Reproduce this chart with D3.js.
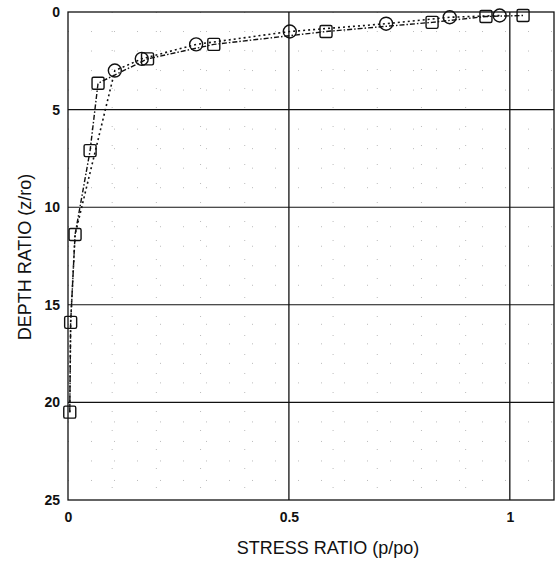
<!DOCTYPE html>
<html>
<head>
<meta charset="utf-8">
<script src="https://cdn.jsdelivr.net/npm/d3@7"></script>
<style>
    body { margin:0; background:#fff; }
    text { font-family:"Liberation Sans", Arial, sans-serif; fill:#111; }
</style>
</head>
<body>
<svg id="svg__container" width="557" height="564"></svg>
<script>
// square series (dash-dot line)
const squareStress=[0.004, 0.006, 0.016, 0.05, 0.068, 0.18, 0.33, 0.584, 0.824, 0.946, 1.03];
const squareDepth=[20.5, 15.9, 11.4, 7.1, 3.65, 2.4, 1.66, 1.0, 0.53, 0.23, 0.18];
// circle series (dotted line) - deep points sit under the squares
const circleStress=[0.004, 0.006, 0.016, 0.106, 0.167, 0.29, 0.502, 0.72, 0.864, 0.977];
const circleDepth=[20.5, 15.9, 11.4, 3.0, 2.4, 1.66, 1.0, 0.6, 0.27, 0.18];

const xMajorTicks=[0, 0.5, 1];
const yMajorTicks=[0, 5, 10, 15, 20, 25];
const xMinorTicks=[0.1, 0.2, 0.3, 0.4, 0.6, 0.7, 0.8, 0.9];
const yMinorTicks=[1,2,3,4,6,7,8,9,11,12,13,14,16,17,18,19,21,22,23,24];

const svgTag=d3.select("#svg__container");
const plotLeft=68, plotRight=554, plotTop=12, plotBottom=500;

const x=d3.scaleLinear().domain([0, 1.1]).range([plotLeft, plotRight]);
const y=d3.scaleLinear().domain([0, 25]).range([plotTop, plotBottom]);

// faint minor grid (sparse dots, like the scan)
const gridG=svgTag.append("g");
xMinorTicks.forEach(t=>{
    gridG.append("line")
        .attr("x1", x(t)).attr("x2", x(t))
        .attr("y1", plotTop).attr("y2", plotBottom)
        .attr("stroke", "#aaa").attr("stroke-width", 0.8)
        .attr("stroke-dasharray", "1,18");
});
yMinorTicks.forEach(t=>{
    gridG.append("line")
        .attr("x1", plotLeft).attr("x2", plotRight)
        .attr("y1", y(t)).attr("y2", y(t))
        .attr("stroke", "#aaa").attr("stroke-width", 0.8)
        .attr("stroke-dasharray", "1,22");
});

// major grid (solid)
xMajorTicks.filter(t=>t>0).forEach(t=>{
    gridG.append("line")
        .attr("x1", x(t)).attr("x2", x(t))
        .attr("y1", plotTop).attr("y2", plotBottom)
        .attr("stroke", "#111").attr("stroke-width", 1.3);
});
yMajorTicks.filter(t=>t>0 && t<25).forEach(t=>{
    gridG.append("line")
        .attr("x1", plotLeft).attr("x2", plotRight)
        .attr("y1", y(t)).attr("y2", y(t))
        .attr("stroke", "#111").attr("stroke-width", 1.1);
});

// frame
svgTag.append("rect")
    .attr("x", plotLeft).attr("y", plotTop)
    .attr("width", plotRight-plotLeft).attr("height", plotBottom-plotTop)
    .attr("fill", "none").attr("stroke", "#111").attr("stroke-width", 1.3);

// axes, labels only
const xAxis=d3.axisBottom(x).tickValues(xMajorTicks).tickSize(0).tickPadding(12)
    .tickFormat(d3.format("~g"));
const yAxis=d3.axisLeft(y).tickValues(yMajorTicks).tickSize(0).tickPadding(8);

svgTag.append("g").attr("transform", `translate(0,${plotBottom})`).call(xAxis)
    .call(g=>g.select(".domain").remove())
    .selectAll("text").attr("font-size", 14).attr("font-weight", "bold")
    .attr("font-family", "Liberation Sans, Arial, sans-serif").attr("fill", "#111");
svgTag.append("g").attr("transform", `translate(${plotLeft},0)`).call(yAxis)
    .call(g=>g.select(".domain").remove())
    .selectAll("text").attr("font-size", 14).attr("font-weight", "bold")
    .attr("font-family", "Liberation Sans, Arial, sans-serif").attr("fill", "#111");

svgTag.append("text")
    .attr("x", 328).attr("y", 554)
    .attr("text-anchor", "middle").attr("font-size", 18)
    .text("STRESS RATIO (p/po)");
svgTag.append("text")
    .attr("transform", `translate(31,257) rotate(-90)`)
    .attr("text-anchor", "middle").attr("font-size", 18)
    .text("DEPTH RATIO (z/ro)");

// lines
const line=d3.line().x(d=>x(d[0])).y(d=>y(d[1]));
const squarePts=squareStress.map((s,i)=>[s, squareDepth[i]]);
const circlePts=circleStress.map((s,i)=>[s, circleDepth[i]]);

svgTag.append("path").datum(circlePts)
    .attr("d", line).attr("fill", "none")
    .attr("stroke", "#111").attr("stroke-width", 1.6)
    .attr("stroke-dasharray", "2,3");
svgTag.append("path").datum(squarePts)
    .attr("d", line).attr("fill", "none")
    .attr("stroke", "#111").attr("stroke-width", 1.4)
    .attr("stroke-dasharray", "5,2,1.5,2");

// markers: circles first so the coincident ones hide behind squares
svgTag.append("g").selectAll("circle").data(circlePts).join("circle")
    .attr("cx", d=>x(d[0])).attr("cy", d=>y(d[1])).attr("r", 6.5)
    .attr("fill", "none").attr("stroke", "#111").attr("stroke-width", 1.4)
    .attr("visibility", d=>d[1]>5 ? "hidden" : "visible");
svgTag.append("g").selectAll("rect").data(squarePts).join("rect")
    .attr("x", d=>x(d[0])-6).attr("y", d=>y(d[1])-6)
    .attr("width", 12).attr("height", 12).attr("rx", 1.5)
    .attr("fill", "none").attr("stroke", "#111").attr("stroke-width", 1.4);
</script>
</body>
</html>
